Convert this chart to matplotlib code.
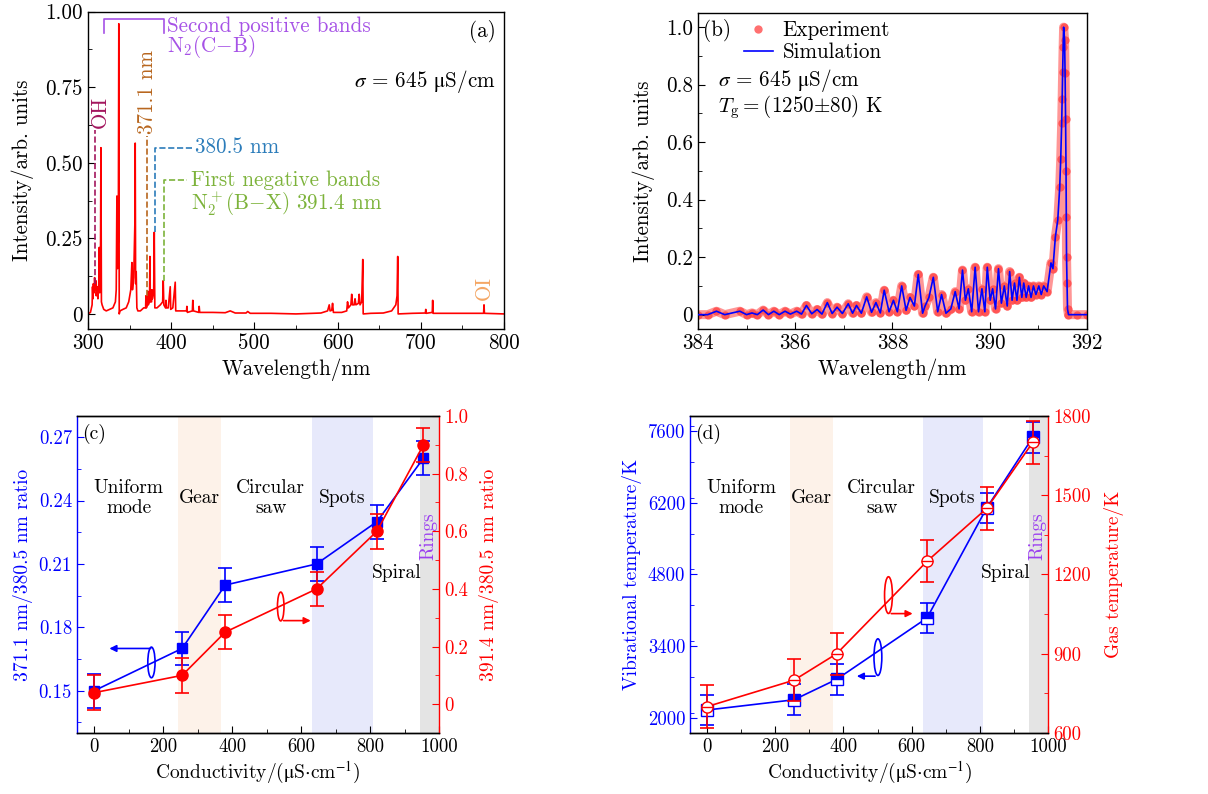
import matplotlib
matplotlib.use('Agg')
import matplotlib.pyplot as plt
from matplotlib.patches import Ellipse
from matplotlib.ticker import MultipleLocator, FuncFormatter

plt.rcParams['font.family'] = ['cmr10', 'DejaVu Serif']
plt.rcParams['mathtext.fontset'] = 'cm'
plt.rcParams['axes.unicode_minus'] = False
plt.rcParams['axes.linewidth'] = 1.0

# ---------- (a) emission spectrum 300-800 nm ----------
wl_a = [300, 303, 305, 305.5, 306, 306.5, 307.5, 308, 308.8, 309.5, 310, 311, 312, 313, 313.6,
        314.2, 315, 315.6, 316.2, 317, 319, 322, 326, 330, 333, 334, 334.8, 335.5, 336.5, 337.1,
        337.6, 338.5, 342, 346, 349, 351.5, 352.8, 353.5, 355, 356.4, 356.8, 357.3, 358, 358.8,
        360, 363, 367, 369.3, 369.7, 370.2, 371.5, 372, 372.5, 374, 374.5, 375, 376.5, 376.9,
        377.4, 379, 379.7, 380.4, 383, 387, 389.8, 390.5, 391.2, 393.2, 393.7, 394.3, 396.5,
        398.9, 399.5, 402, 404.9, 405.5, 410, 418.5, 418.9, 419.5, 425.5, 426, 426.8, 433.2,
        433.7, 434.3, 440, 450, 465, 471, 477, 490, 492, 495, 520, 550, 580, 588, 590, 591, 593,
        594, 595, 605, 611, 612, 613, 616, 617, 618, 620, 621, 622, 625, 626, 627, 629, 630.3,
        630.8, 640, 655, 665, 670, 671.5, 672.3, 672.8, 690, 705.5, 706, 706.5, 713.8, 714.3,
        714.8, 750, 775.5, 776, 776.5, 800]
int_a = [0.0, 0.005, 0.03, 0.09, 0.05, 0.10, 0.07, 0.12, 0.08, 0.11, 0.06, 0.09, 0.05, 0.10, 0.22,
         0.07, 0.12, 0.55, 0.04, 0.03, 0.015, 0.01, 0.015, 0.02, 0.04, 0.08, 0.39, 0.15, 0.25, 0.96,
         0.0, 0.01, 0.015, 0.02, 0.04, 0.08, 0.17, 0.08, 0.12, 0.30, 0.565, 0.10, 0.14, 0.02,
         0.01, 0.01, 0.02, 0.02, 0.06, 0.02, 0.03, 0.075, 0.03, 0.04, 0.19, 0.04, 0.04, 0.08,
         0.05, 0.07, 0.27, 0.02, 0.02, 0.03, 0.04, 0.11, 0.03, 0.02, 0.045, 0.02, 0.02,
         0.09, 0.015, 0.02, 0.105, 0.01, 0.01, 0.01, 0.025, 0.005, 0.01, 0.045, 0.01, 0.005,
         0.025, 0.005, 0.005, 0.005, 0.004, 0.01, 0.003, 0.003, 0.008, 0.002, 0.002, 0.0, 0.003, 0.01, 0.03, 0.01, 0.012,
         0.035, 0.005, 0.005, 0.01, 0.04, 0.02, 0.03, 0.065, 0.03, 0.03, 0.05, 0.03, 0.035, 0.065, 0.03, 0.04, 0.18,
         0.0, 0.002, 0.003, 0.01, 0.03, 0.06, 0.19, 0.0, 0.002, 0.003, 0.015, 0.002, 0.005, 0.045,
         0.002, 0.002, 0.002, 0.03, 0.002, 0.0]

# ---------- (b) N2+ (B-X) 391.4 nm band ----------
b_wl = [384.0, 384.2, 384.38, 384.55, 384.86, 385.0, 385.11, 385.22, 385.34, 385.45, 385.56, 385.67,
        385.79, 385.9, 386.03, 386.13, 386.23, 386.34, 386.45, 386.55, 386.66, 386.76, 386.86,
        386.97, 387.09, 387.18, 387.26, 387.36, 387.47, 387.57, 387.66, 387.75, 387.83, 387.93,
        388.02, 388.1, 388.19, 388.28, 388.36, 388.45, 388.53, 388.62, 388.67, 388.75, 388.84,
        388.93, 389.01, 389.1, 389.2, 389.29, 389.37, 389.44, 389.5, 389.56, 389.63, 389.70,
        389.77, 389.84, 389.9, 389.95, 390.01, 390.06, 390.12, 390.18, 390.24, 390.30, 390.36,
        390.41, 390.46, 390.51, 390.56, 390.61, 390.66, 390.70, 390.75, 390.80, 390.85, 390.90,
        390.95, 391.01, 391.06, 391.11, 391.18, 391.26, 391.3, 391.35, 391.40, 391.44, 391.46,
        391.48, 391.49, 391.50, 391.51, 391.52, 391.54, 391.55, 391.56, 391.57, 391.575, 391.58,
        391.59, 391.60, 391.62, 391.8, 392.0]
b_exp = [0.0, 0.0, 0.012, 0.0, 0.012, 0.0, 0.006, 0.0, 0.016, 0.0, 0.012, 0.0,
         0.012, 0.002, 0.012, 0.002, 0.032, 0.003, 0.018, 0.002, 0.042, 0.004, 0.026,
         0.004, 0.038, 0.005, 0.032, 0.005, 0.062, 0.008, 0.042, 0.006, 0.085, 0.01,
         0.05, 0.01, 0.10, 0.015, 0.06, 0.03, 0.14, 0.005, 0.03, 0.06, 0.13,
         0.01, 0.07, 0.005, 0.02, 0.08, 0.02, 0.155, 0.05, 0.09, 0.01, 0.165,
         0.01, 0.09, 0.01, 0.165, 0.05, 0.09, 0.02, 0.16, 0.04, 0.10, 0.03,
         0.15, 0.05, 0.11, 0.05, 0.13, 0.06, 0.11, 0.06, 0.10, 0.06, 0.10,
         0.07, 0.10, 0.07, 0.10, 0.08, 0.18, 0.16, 0.27, 0.33, 0.445, 0.54,
         0.665, 0.75, 0.845, 0.93, 1.0, 0.955, 0.84, 0.68, 0.50, 0.34, 0.20,
         0.11, 0.02, 0.0, 0.0, 0.0]
b_sim = b_exp

# ---------- (c), (d) vs conductivity ----------
cond = [0, 255, 380, 645, 820, 955]
ratio_371 = [0.15, 0.17, 0.20, 0.21, 0.23, 0.26]
ratio_371_err = [0.008, 0.008, 0.008, 0.008, 0.008, 0.008]
ratio_391 = [0.04, 0.10, 0.25, 0.40, 0.60, 0.90]
ratio_391_err = [0.06, 0.06, 0.06, 0.06, 0.06, 0.06]
t_vib = [2150, 2350, 2750, 3950, 6100, 7480]
t_vib_err = [300, 300, 300, 300, 300, 300]
t_gas = [700, 800, 900, 1250, 1450, 1700]
t_gas_err = [80, 80, 80, 80, 80, 80]

mode_spans = [(243, 368, '#fdf2e9'), (633, 808, '#e7e9fb'), (944, 1000, '#e4e4e4')]
mode_labels = ['Uniform\nmode', 'Gear', 'Circular\nsaw', 'Spots']
mode_label_x = [100, 306, 512, 720]

BLUE = '#0000ff'
RED = '#ff0000'
FS = 15.2
FS2 = 13.5
MU = r'$\mathrm{\mu}$'

fig = plt.figure(figsize=(12.08, 7.94), dpi=100)


def style(ax, fs):
    ax.tick_params(which='both', direction='in', labelsize=fs, top=False, right=False)
    ax.tick_params(which='major', length=5)
    ax.tick_params(which='minor', length=3)


# ---- panel (a)
ax = fig.add_axes([0.0728, 0.5856, 0.3444, 0.3997])
ax.plot(wl_a, int_a, color=RED, lw=1.2)
ax.set_xlim(300, 800)
ax.set_ylim(-0.05, 1.0)
ax.xaxis.set_major_locator(MultipleLocator(100))
ax.xaxis.set_minor_locator(MultipleLocator(50))
ax.yaxis.set_major_locator(MultipleLocator(0.25))
ax.yaxis.set_minor_locator(MultipleLocator(0.125))
ax.yaxis.set_major_formatter(FuncFormatter(lambda v, p: '0' if abs(v) < 1e-9 else f'{v:.2f}'))
style(ax, FS)
ax.set_xlabel('Wavelength/nm', fontsize=FS, labelpad=4)
ax.set_ylabel('Intensity/arb. units', fontsize=FS, labelpad=8)

c_oh = '#a3165e'
ax.plot([309, 309], [0.1, 0.61], ls='--', color=c_oh, lw=1.2)
ax.text(314.5, 0.615, 'OH', rotation=90, ha='center', va='bottom', color=c_oh, fontsize=FS)
c_371 = '#b8661e'
ax.plot([371.1, 371.1], [0.06, 0.59], ls='--', color=c_371, lw=1.2)
ax.text(371.5, 0.595, '371.1 nm', rotation=90, ha='center', va='bottom', color=c_371, fontsize=FS)
c_380 = '#2b7cba'
ax.plot([380.5, 380.5, 425], [0.27, 0.55, 0.55], ls='--', color=c_380, lw=1.2)
ax.text(429, 0.55, '380.5 nm', ha='left', va='center', color=c_380, fontsize=FS)
c_391 = '#7db33b'
ax.plot([391.4, 391.4, 419], [0.11, 0.442, 0.442], ls='--', color=c_391, lw=1.2)
ax.text(424, 0.442, 'First negative bands', ha='left', va='center', color=c_391, fontsize=FS)
ax.text(424, 0.364, r'N$_2^+$(B$-$X) 391.4 nm', ha='left', va='center', color=c_391, fontsize=FS)
c_sp = '#a652e6'
ax.plot([319.6, 319.6, 390.9, 390.9], [0.93, 0.975, 0.975, 0.93], color=c_sp, lw=1.2)
ax.text(395, 0.953, 'Second positive bands', ha='left', va='center', color=c_sp, fontsize=FS)
ax.text(395, 0.884, r'N$_2$(C$-$B)', ha='left', va='center', color=c_sp, fontsize=FS)
ax.text(776, 0.046, 'OI', rotation=90, ha='center', va='bottom', color='#f4a664', fontsize=FS)
ax.text(774, 0.934, '(a)', ha='center', va='center', fontsize=FS)
ax.text(790, 0.769, r'$\sigma$ = 645 ' + MU + 'S/cm', ha='right', va='center', fontsize=FS,
        math_fontfamily='stix')

# ---- panel (b)
ax = fig.add_axes([0.5778, 0.5856, 0.322, 0.3983])
ax.plot(b_wl, b_exp, '-', lw=6.5, color='#ff4040', alpha=0.55, solid_capstyle='round', zorder=1)
ax.plot(b_wl, b_exp, 'o', ms=6, color='#ff4040', alpha=0.75, mec='none', label='Experiment', zorder=2)
ax.plot(b_wl, b_sim, '-', lw=1.2, color=BLUE, label='Simulation', zorder=3)
ax.set_xlim(384, 392)
ax.set_ylim(-0.05, 1.05)
ax.xaxis.set_major_locator(MultipleLocator(2))
ax.xaxis.set_minor_locator(MultipleLocator(1))
ax.yaxis.set_major_locator(MultipleLocator(0.2))
ax.yaxis.set_minor_locator(MultipleLocator(0.1))
ax.yaxis.set_major_formatter(FuncFormatter(lambda v, p: '0' if abs(v) < 1e-9 else f'{v:.1f}'))
style(ax, FS)
ax.set_xlabel('Wavelength/nm', fontsize=FS, labelpad=4)
ax.set_ylabel('Intensity/arb. units', fontsize=FS, labelpad=8)
ax.legend(loc='upper left', bbox_to_anchor=(0.09, 1.008), frameon=False, fontsize=FS,
          borderpad=0, handlelength=1.4, handletextpad=0.45, labelspacing=0.1, numpoints=1)
ax.text(384.4, 0.988, '(b)', ha='center', va='center', fontsize=FS)
ax.text(384.41, 0.815, r'$\sigma$ = 645 ' + MU + 'S/cm', ha='left', va='center', fontsize=FS,
        math_fontfamily='stix')
ax.text(384.41, 0.722, r'$T_{\rm g} = (1250{\pm}80)$ K', ha='left', va='center', fontsize=FS)


def mode_panel(rect, lab):
    ax = fig.add_axes(rect)
    for x0, x1, col in mode_spans:
        ax.axvspan(x0, x1, color=col, lw=0, zorder=0)
    ax.set_xlim(-50, 1000)
    ax.xaxis.set_major_locator(MultipleLocator(200))
    ax.xaxis.set_minor_locator(MultipleLocator(100))
    ax2 = ax.twinx()
    style(ax, FS2)
    ax2.tick_params(which='both', direction='in', labelsize=FS2, colors=RED)
    ax2.tick_params(which='major', length=5)
    ax2.tick_params(which='minor', length=3)
    ax.tick_params(axis='y', which='both', colors=BLUE)
    ax.spines['left'].set_color(BLUE)
    ax.spines['right'].set_visible(False)
    ax2.spines['left'].set_visible(False)
    ax2.spines['right'].set_color(RED)
    ax.set_xlabel(r'Conductivity/(' + MU + r'S$\cdot$cm$^{-1}$)', fontsize=FS2 + 0.5,
                  labelpad=3, math_fontfamily='stix')
    tr = ax.get_xaxis_transform()
    for t, x in zip(mode_labels, mode_label_x):
        ax.text(x, 0.74, t, transform=tr, ha='center', va='center', fontsize=FS2 + 0.5,
                linespacing=1.15, zorder=5)
    ax.text(876, 0.505, 'Spiral', transform=tr, ha='center', va='center', fontsize=FS2 + 0.5, zorder=5)
    ax.text(968, 0.62, 'Rings', transform=tr, ha='center', va='center', rotation=90,
            color='#9b3ef0', fontsize=FS2 + 0.5, zorder=5)
    ax.text(-35, 0.942, lab, transform=tr, ha='left', va='center', fontsize=FS2 + 0.5, zorder=5)
    return ax, ax2


# ---- panel (c)
ax, ax2 = mode_panel([0.0637, 0.0768, 0.2997, 0.3993], '(c)')
ax.errorbar(cond, ratio_371, yerr=ratio_371_err, color=BLUE, marker='s', ms=7, lw=1.2,
            capsize=5, elinewidth=1.2, capthick=1.2, zorder=3)
ax.set_ylim(0.13, 0.28)
ax.set_yticks([0.15, 0.18, 0.21, 0.24, 0.27])
ax.yaxis.set_minor_locator(MultipleLocator(0.015))
ax.yaxis.set_major_formatter(FuncFormatter(lambda v, p: f'{v:.2f}'))
ax.set_ylabel('371.1 nm/380.5 nm ratio', color=BLUE, fontsize=FS2 + 0.5, labelpad=4)
ax2.errorbar(cond, ratio_391, yerr=ratio_391_err, color=RED, marker='o', ms=8, lw=1.2,
             capsize=5, elinewidth=1.2, capthick=1.2, zorder=3)
ax2.set_ylim(-0.1, 1.0)
ax2.yaxis.set_major_locator(MultipleLocator(0.2))
ax2.yaxis.set_minor_locator(MultipleLocator(0.1))
ax2.yaxis.set_major_formatter(FuncFormatter(lambda v, p: '0' if abs(v) < 1e-9 else f'{v:.1f}'))
ax2.set_ylabel('391.4 nm/380.5 nm ratio', color=RED, fontsize=FS2 + 0.5, labelpad=8)
ax.add_patch(Ellipse((166, 0.1634), 21, 0.0145, fill=False, ec=BLUE, lw=1.2, zorder=4))
ax.annotate('', xy=(36, 0.170), xytext=(172, 0.170),
            arrowprops=dict(arrowstyle='-|>', color=BLUE, lw=1.2, mutation_scale=10))
ax2.add_patch(Ellipse((541, 0.339), 19, 0.10, fill=False, ec=RED, lw=1.2, zorder=4))
ax2.annotate('', xy=(636, 0.29), xytext=(541, 0.29),
             arrowprops=dict(arrowstyle='-|>', color=RED, lw=1.2, mutation_scale=10))

# ---- panel (d)
ax, ax2 = mode_panel([0.5712, 0.0768, 0.2964, 0.3993], '(d)')
ax.errorbar(cond, t_vib, yerr=t_vib_err, color=BLUE, marker='s', ms=8, lw=1.2,
            fillstyle='top', markerfacecoloralt='white', capsize=5, elinewidth=1.2,
            capthick=1.2, zorder=3)
ax.set_ylim(1700, 7900)
ax.set_yticks([2000, 3400, 4800, 6200, 7600])
ax.yaxis.set_minor_locator(MultipleLocator(700))
ax.set_ylabel('Vibrational temperature/K', color=BLUE, fontsize=FS2 + 0.5, labelpad=4)
ax2.errorbar(cond, t_gas, yerr=t_gas_err, color=RED, marker='o', ms=8, lw=1.2, mfc='white',
             capsize=5, elinewidth=1.2, capthick=1.2, zorder=3)
ax2.plot(cond, t_gas, ls='none', marker='_', ms=8, color=RED, zorder=4)
ax2.set_ylim(600, 1800)
ax2.yaxis.set_major_locator(MultipleLocator(300))
ax2.yaxis.set_minor_locator(MultipleLocator(150))
ax2.set_ylabel('Gas temperature/K', color=RED, fontsize=FS2 + 0.5, labelpad=10)
ax.add_patch(Ellipse((501, 3184), 23, 716, fill=False, ec=BLUE, lw=1.2, zorder=4))
ax.annotate('', xy=(431, 2812), xytext=(501, 2812),
            arrowprops=dict(arrowstyle='-|>', color=BLUE, lw=1.2, mutation_scale=10))
ax2.add_patch(Ellipse((532, 1122), 23, 139, fill=False, ec=RED, lw=1.2, zorder=4))
ax2.annotate('', xy=(611, 1052), xytext=(532, 1052),
             arrowprops=dict(arrowstyle='-|>', color=RED, lw=1.2, mutation_scale=10))

fig.savefig('out.png', dpi=100)
